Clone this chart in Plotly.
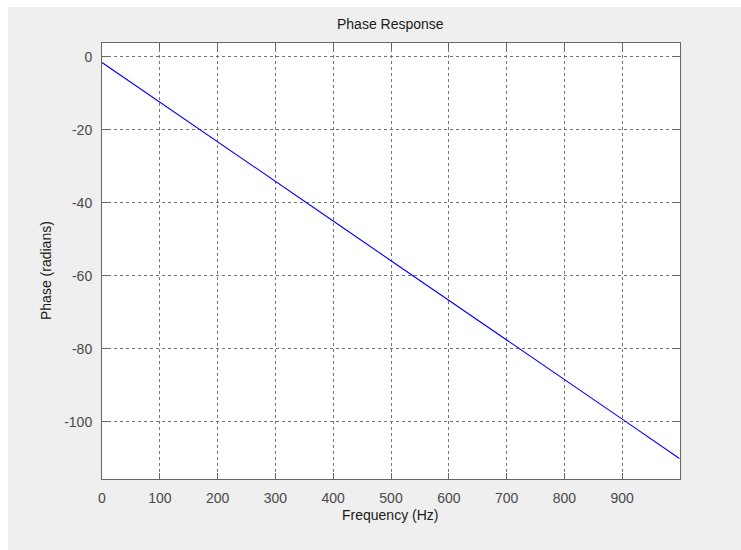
import plotly.graph_objects as go

# Phase response of the filter (radians) versus frequency (Hz)
frequency_hz = [0, 100, 200, 300, 400, 500, 600, 700, 800, 900, 999]
phase_rad = [-1.6, -12.4, -23.3, -34.2, -45.0, -55.9, -66.7, -77.6, -88.5, -99.3, -110.1]

x_ticks = [0, 100, 200, 300, 400, 500, 600, 700, 800, 900]
y_ticks = [0, -20, -40, -60, -80, -100]
y_tick_labels = ["0", "-20", "-40", "-60", "-80", "-100"]

W, H = 741, 550
L, R, T, B = 102, 61, 43, 71
PW, PH = W - L - R, H - T - B


def px_x(px):
    return (px - L) / PW


def px_y(py):
    return (H - B - py) / PH


FONT = "Liberation Sans, Arial, sans-serif"
AXIS_GRAY = "#666666"

fig = go.Figure()
fig.add_trace(go.Scatter(
    x=frequency_hz, y=phase_rad, mode="lines",
    line=dict(color="#0000ff", width=1.1),
    hoverinfo="skip", showlegend=False,
))

axis_common = dict(
    showline=True, linecolor=AXIS_GRAY, linewidth=1, mirror="ticks",
    ticks="inside", ticklen=6, tickcolor=AXIS_GRAY, tickwidth=1,
    showgrid=True, gridcolor="#737373", gridwidth=1, griddash="3px,3px",
    zeroline=False,
    tickfont=dict(family=FONT, size=14, color="#4a4a4a"),
)

fig.update_xaxes(range=[0, 1000], tickvals=x_ticks, ticklabelstandoff=6, **axis_common)
fig.update_yaxes(range=[-115.7, 3.75], tickvals=y_ticks, ticktext=y_tick_labels,
                 ticklabelstandoff=6, **axis_common)

fig.update_layout(
    width=W, height=H,
    margin=dict(l=L, r=R, t=T, b=B),
    paper_bgcolor="#efefef", plot_bgcolor="#ffffff",
    shapes=[
        dict(type="rect", xref="paper", yref="paper", layer="below",
             x0=px_x(0), x1=px_x(8), y0=px_y(H), y1=px_y(0),
             fillcolor="#ffffff", line=dict(width=0)),
        dict(type="rect", xref="paper", yref="paper", layer="below",
             x0=px_x(0), x1=px_x(W), y0=px_y(7), y1=px_y(0),
             fillcolor="#ffffff", line=dict(width=0)),
    ],
    annotations=[
        dict(text="Phase Response", xref="paper", yref="paper",
             x=px_x(390), y=px_y(24), xanchor="center", yanchor="middle",
             showarrow=False, font=dict(family=FONT, size=14, color="#1a1a1a")),
        dict(text="Frequency (Hz)", xref="paper", yref="paper",
             x=px_x(390), y=px_y(515), xanchor="center", yanchor="middle",
             showarrow=False, font=dict(family=FONT, size=14, color="#1a1a1a")),
        dict(text="Phase (radians)", xref="paper", yref="paper",
             x=px_x(46), y=px_y(271), xanchor="center", yanchor="middle",
             textangle=-90,
             showarrow=False, font=dict(family=FONT, size=14, color="#1a1a1a")),
    ],
)

fig.write_html("out.html")
